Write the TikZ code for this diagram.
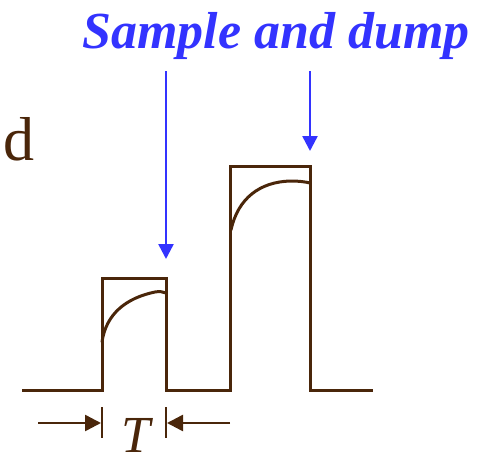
\documentclass[tikz,border=0pt]{standalone}
\usepackage{fontspec}
\setmainfont{Liberation Serif}
\newfontfamily\lblfont{Liberation Serif Bold Italic}
\usetikzlibrary{arrows.meta}
\definecolor{brn}{RGB}{74,38,10}
\definecolor{blu}{RGB}{51,51,255}
\begin{document}
\begin{tikzpicture}[x=1pt,y=-1pt,
  wave/.style={draw=brn,line width=3pt,line join=miter},
  ptr/.style={draw=blu,line width=2.5pt,-{Triangle[length=15pt,width=15pt]}},
  dim/.style={draw=brn,line width=2.5pt,-{Triangle[length=16pt,width=16pt]}},
  tick/.style={draw=brn,line width=2.5pt}]
\useasboundingbox (0,0) rectangle (483,451);
% waveform corners
\coordinate (b0) at (22,390);
\coordinate (p1a) at (102,390);
\coordinate (p1b) at (102,278);
\coordinate (p1c) at (166,278);
\coordinate (p1d) at (166,390);
\coordinate (p2a) at (230,390);
\coordinate (p2b) at (230,166);
\coordinate (p2c) at (310,166);
\coordinate (p2d) at (310,390);
\coordinate (b1) at (373,390);
\draw[wave] (b0) -- (p1a) -- (p1b) -- (p1c) -- (p1d) -- (p2a) -- (p2b) -- (p2c) -- (p2d) -- (b1);
% integrator response curves
\draw[wave,line cap=round] (102,342) .. controls (106,314) and (126,298) .. (155,292) .. controls (160,291) and (163,292) .. (166,293);
\draw[wave,line cap=round] (231,230) .. controls (238,198) and (260,182) .. (290,181) .. controls (300,181) and (306,182) .. (310,183);
% labels
\node[text=blu,font=\lblfont\fontsize{52}{60}\selectfont,anchor=base] (lbl) at (276,48) {Sample and dump};
\node[text=brn,font=\fontsize{62}{70}\selectfont,anchor=base east,inner sep=0pt] (dd) at (35,160) {d};
% sample arrows
\coordinate (s1) at (166,71);
\coordinate (t1) at (166,259);
\coordinate (s2) at (310,71);
\coordinate (t2) at (310,151);
\draw[ptr] (s1) -- (t1);
\draw[ptr] (s2) -- (t2);
% T dimension
\coordinate (k1t) at (102,407);
\coordinate (k1b) at (102,438);
\coordinate (k2t) at (166,407);
\coordinate (k2b) at (166,438);
\draw[tick] (k1t) -- (k1b);
\draw[tick] (k2t) -- (k2b);
\coordinate (d1) at (38,423);
\coordinate (d1e) at (101,423);
\coordinate (d2) at (230,423);
\coordinate (d2e) at (167,423);
\draw[dim] (d1) -- (d1e);
\draw[dim] (d2) -- (d2e);
\node[text=brn,font=\fontsize{52}{60}\selectfont\itshape,anchor=base,inner sep=0pt] (T) at (136,452) {T};
\end{tikzpicture}
\end{document}
